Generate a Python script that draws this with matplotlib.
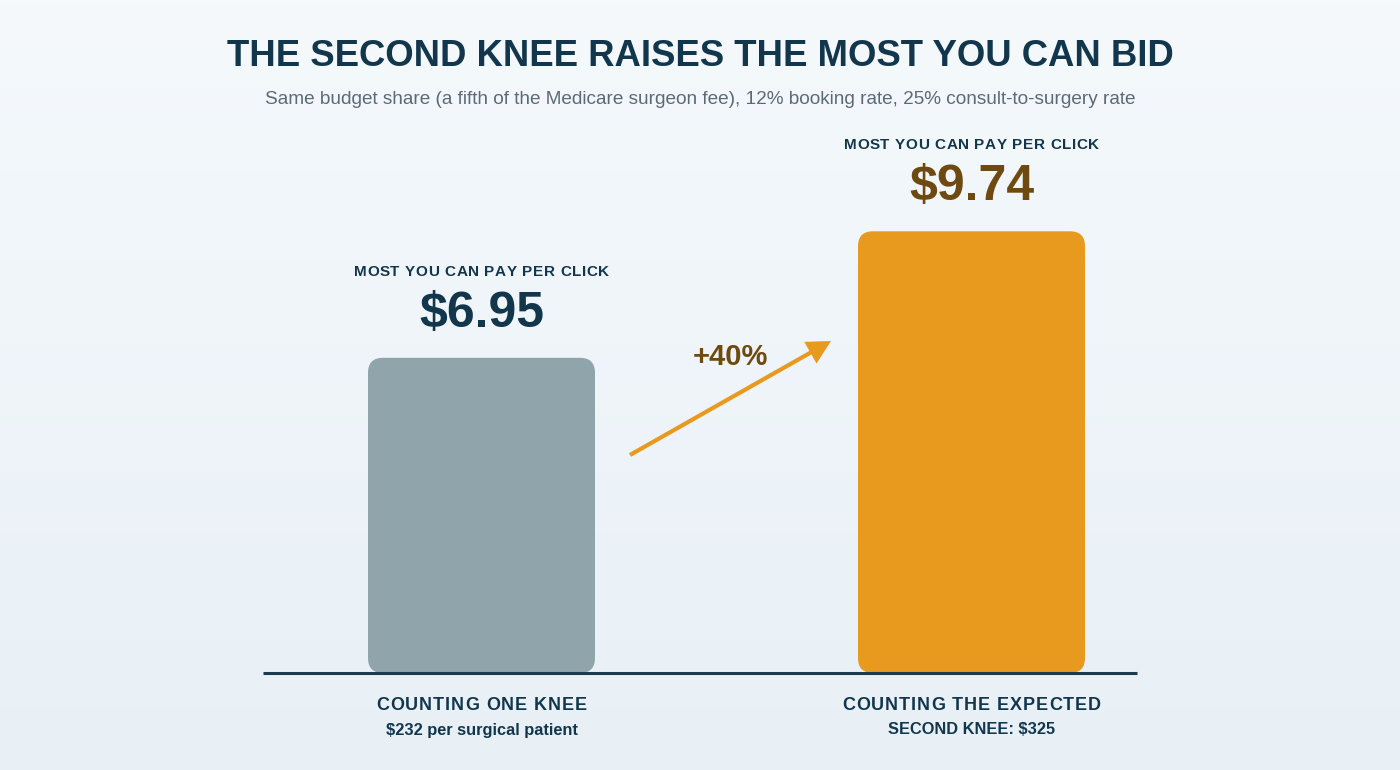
import numpy as np
import matplotlib
matplotlib.use("Agg")
import matplotlib.pyplot as plt
from matplotlib.patches import FancyBboxPatch, FancyArrowPatch
from matplotlib import font_manager
from matplotlib.font_manager import FontProperties
from matplotlib.ft2font import FT2Font

# ---------------- data ----------------
categories = ["COUNTING ONE KNEE", "COUNTING THE EXPECTED"]
sublabels = ["$232 per surgical patient", "SECOND KNEE: $325"]
max_cpc = [6.95, 9.74]
top_label = "MOST YOU CAN PAY PER CLICK"
title = "THE SECOND KNEE RAISES THE MOST YOU CAN BID"
subtitle = ("Same budget share (a fifth of the Medicare surgeon fee), "
            "12% booking rate, 25% consult-to-surgery rate")

# ---------------- style ----------------
W, H, DPI = 14.0, 7.7, 100
FAM = "Liberation Sans"
NAVY = "#12374d"
GRAY_TXT = "#5b6b76"
BAR_COLORS = ["#8fa4ab", "#e89a1f"]
VALUE_COLORS = [NAVY, "#6e4a10"]
BROWN = "#6e4a10"
ORANGE = "#e89a1f"

fig = plt.figure(figsize=(W, H), dpi=DPI)
FW, FH = W * DPI, H * DPI

# background gradient
bg = fig.add_axes([0, 0, 1, 1], zorder=-10)
top_c = np.array([0xf5, 0xf9, 0xfc]) / 255
bot_c = np.array([0xe8, 0xf0, 0xf6]) / 255
t = np.linspace(0, 1, 256)[:, None]
grad = (top_c[None, :] * (1 - t) + bot_c[None, :] * t)[:, None, :]
bg.imshow(grad, aspect="auto", extent=[0, 1, 0, 1])
bg.axis("off")

# main axes (pixel-based placement)
px_left, px_right, px_base, px_top = 263, 1137, 673, 100
ax = fig.add_axes([px_left / FW, (FH - px_base) / FH,
                   (px_right - px_left) / FW, (px_base - px_top) / FH])
ax.set_facecolor("none")
units_per_px_y = 1 / 45.35
ax.set_ylim(0, (px_base - px_top) * units_per_px_y)
x = np.arange(len(max_cpc))
px_per_x = 490.0
ax.set_xlim(-(481.5 - px_left) / px_per_x, 1 + (px_right - 971.5) / px_per_x)
ax.axis("off")

bar_w = 227 / px_per_x
r_x = 15 / px_per_x
r_y = 15 * units_per_px_y
for xi, v, c in zip(x, max_cpc, BAR_COLORS):
    p = FancyBboxPatch((xi - bar_w / 2, 0), bar_w, v,
                       boxstyle=f"round,pad=0,rounding_size={r_x}",
                       mutation_aspect=r_y / r_x,
                       facecolor=c, edgecolor="none", zorder=2)
    ax.add_patch(p)
ax.axhline(0, color="#1b3a4e", lw=2.2, zorder=3, clip_on=False,
           solid_capstyle="butt")

# ---------------- spaced text helper ----------------
_font_cache = {}


def _advances(s, size, weight):
    key = (weight,)
    if key not in _font_cache:
        path = font_manager.findfont(FontProperties(family=FAM, weight=weight))
        _font_cache[key] = path
    f = FT2Font(_font_cache[key])
    f.set_size(size, DPI)
    adv = []
    for ch in s:
        g = f.load_char(ord(ch))
        adv.append(g.linearHoriAdvance / 65536)
    return adv


def spaced_text(cx_px, cy_px, s, size, spacing_px, color, weight="bold"):
    """Draw text centred at figure pixel (cx, cy from top) with letter spacing."""
    adv = _advances(s, size, weight)
    total = sum(adv) + spacing_px * (len(s) - 1)
    xpos = cx_px - total / 2
    for ch, a in zip(s, adv):
        if ch != " ":
            fig.text(xpos / FW, 1 - cy_px / FH, ch, fontsize=size,
                     fontweight=weight, family=FAM, color=color,
                     ha="left", va="center")
        xpos += a + spacing_px


def data_to_px(xd, yd):
    X, Y = ax.transData.transform((xd, yd))
    return X, FH - Y


# title and subtitle
fig.text(0.5, 1 - 56 / FH, title, fontsize=26.3, fontweight="bold",
         family=FAM, color=NAVY, ha="center", va="center")
fig.text(0.5, 1 - 100 / FH, subtitle, fontsize=13.7, family=FAM,
         color=GRAY_TXT, ha="center", va="center")

# labels above bars
for xi, v, vc in zip(x, max_cpc, VALUE_COLORS):
    cx, ty = data_to_px(xi, v)
    spaced_text(cx, ty - 86, top_label, 11, 0.6, NAVY)
    fig.text(cx / FW, 1 - (ty - 44) / FH, f"${v:.2f}", fontsize=36,
             fontweight="bold", family=FAM, color=vc,
             ha="center", va="center")

# category labels under baseline
for xi, cat, sub in zip(x, categories, sublabels):
    cx, by = data_to_px(xi, 0)
    spaced_text(cx, by + 32, cat, 13, 1.0, NAVY)
    fig.text(cx / FW, 1 - (by + 57) / FH, sub, fontsize=11.8,
             fontweight="bold", family=FAM, color=NAVY,
             ha="center", va="center")

# arrow with percentage change
pct = (max_cpc[1] / max_cpc[0] - 1) * 100
tail = ((630 - 481.5) / px_per_x, (px_base - 455) * units_per_px_y)
head = ((831 - 481.5) / px_per_x, (px_base - 341) * units_per_px_y)
arr = FancyArrowPatch(tail, head, arrowstyle="-|>,head_length=9.5,head_width=5",
                      mutation_scale=1.3, color=ORANGE, lw=3.0, zorder=4,
                      shrinkA=0, shrinkB=0, joinstyle="miter", capstyle="butt")
ax.add_patch(arr)
lx, ly = 730, 357
fig.text(lx / FW, 1 - ly / FH, f"+{pct:.0f}%", fontsize=21,
         fontweight="bold", family=FAM, color=BROWN,
         ha="center", va="center")

fig.savefig("out.png", dpi=DPI)
